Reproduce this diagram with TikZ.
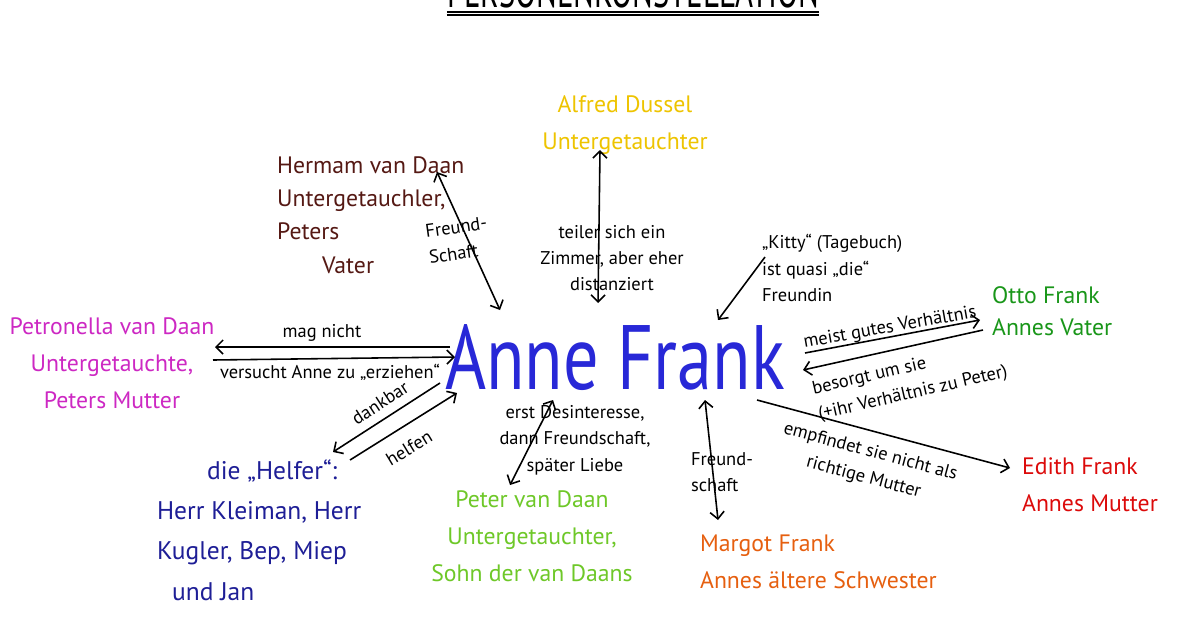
\documentclass[tikz,border=0pt]{standalone}
\usepackage{fontspec}
\setmainfont{PT Sans}
\usetikzlibrary{positioning,arrows.meta}
\definecolor{annecol}{RGB}{40,40,215}
\definecolor{alfredcol}{RGB}{238,196,0}
\definecolor{hermcol}{RGB}{85,25,20}
\definecolor{petrcol}{RGB}{205,40,195}
\definecolor{helfcol}{RGB}{30,30,150}
\definecolor{petercol}{RGB}{110,200,40}
\definecolor{margcol}{RGB}{230,95,15}
\definecolor{edithcol}{RGB}{220,10,10}
\definecolor{ottocol}{RGB}{25,150,25}

\begin{document}
\begin{tikzpicture}[>={Straight Barb[length=4pt,width=8pt]}, every node/.style={font=\small}]
\tikzset{
  person/.style={font=\fontsize{13.5}{21}\selectfont, inner sep=1pt},
  helper/.style={font=\fontsize{14.5}{23}\selectfont, inner sep=1pt},
  relation/.style={font=\fontsize{10.5}{15}\selectfont, inner sep=1pt},
  both/.style={<->, line width=0.9pt},
  oneway/.style={->, line width=0.9pt}
}
\useasboundingbox (0,0) rectangle (24,12.6);
\fill[white] (0,0) rectangle (24,12.6);
\node[anchor=base, font=\fontsize{17.5}{17.5}\selectfont, yscale=1.6, inner sep=0] (title) at (12.66,12.44) {PERSONENKONSTELLATION};
\draw[line width=0.8pt] ([yshift=-0.08cm]title.base west) -- ([yshift=-0.08cm]title.base east);
\draw[line width=0.8pt] ([yshift=-0.14cm]title.base west) -- ([yshift=-0.14cm]title.base east);
\node[text=annecol, font=\fontsize{40}{40}\selectfont, yscale=1.3] (anne) at (12.3,5.44) {Anne Frank};
\node[person, text=alfredcol, align=center] (alfred) at (12.5,10.1) {Alfred Dussel\\Untergetauchter};
\node[person, text=hermcol, align=left, anchor=west, font=\fontsize{13.5}{19}\selectfont] (hermann) at (5.5,8.3) {Hermam van Daan\\Untergetauchler,\\Peters\\\hspace*{0.9cm}Vater};
\node[person, text=petrcol, align=center] (petronella) at (2.24,5.34) {Petronella van Daan\\Untergetauchte,\\Peters Mutter};
\node[helper, text=helfcol, align=left, anchor=west] (helfer) at (3.1,2.0) {\hspace*{1cm}die „Helfer“:\\Herr Kleiman, Herr\\Kugler, Bep, Miep\\\hspace*{0.3cm}und Jan};
\node[person, text=petercol, align=center] (peter) at (10.64,1.88) {Peter van Daan\\Untergetauchter,\\Sohn der van Daans};
\node[person, text=margcol, align=left, anchor=west] (margot) at (13.96,1.36) {Margot Frank\\Annes ältere Schwester};
\node[person, text=edithcol, align=left, anchor=west] (edith) at (20.4,2.9) {Edith Frank\\Annes Mutter};
\node[person, text=ottocol, align=left, anchor=west, font=\fontsize{13.5}{18}\selectfont] (otto) at (19.8,6.38) {Otto Frank\\Annes Vater};
\node[relation, align=left, anchor=west] (kitty) at (15.2,7.24) {„Kitty“ (Tagebuch)\\ist quasi „die“\\Freundin};
\coordinate (hermA) at (8.74,9.16);
\coordinate (hermB) at (10.0,6.4);
\coordinate (alfA) at (12.0,9.6);
\coordinate (alfB) at (11.96,6.54);
\coordinate (kitA) at (15.3,7.46);
\coordinate (kitB) at (14.36,6.2);
\coordinate (ottoA) at (16.1,5.54);
\coordinate (ottoB) at (19.6,6.2);
\coordinate (ottoC) at (19.66,6.0);
\coordinate (ottoD) at (16.06,5.2);
\coordinate (petrA) at (9.0,5.66);
\coordinate (petrB) at (4.3,5.66);
\coordinate (petrC) at (4.26,5.4);
\coordinate (petrD) at (9.1,5.46);
\coordinate (helfA) at (8.8,4.94);
\coordinate (helfB) at (6.66,3.56);
\coordinate (helfC) at (7.0,3.4);
\coordinate (helfD) at (9.14,4.74);
\coordinate (petA) at (11.06,4.6);
\coordinate (petB) at (10.2,2.9);
\coordinate (margA) at (14.1,4.6);
\coordinate (margB) at (14.36,2.2);
\coordinate (edA) at (15.14,4.6);
\coordinate (edB) at (20.2,3.24);
\draw[both] (hermA) -- (hermB);
\draw[both] (alfA) -- (alfB);
\draw[oneway] (kitA) -- (kitB);
\draw[oneway] (ottoA) -- (ottoB);
\draw[oneway] (ottoC) -- (ottoD);
\draw[oneway] (petrA) -- (petrB);
\draw[oneway] (petrC) -- (petrD);
\draw[oneway] (helfA) -- (helfB);
\draw[oneway] (helfC) -- (helfD);
\draw[both] (petA) -- (petB);
\draw[both] (margA) -- (margB);
\draw[oneway] (edA) -- (edB);
\node[relation, align=left, rotate=8] (lhermann) at (9.16,7.8) {Freund-\\Schaft};
\node[relation, align=center] (lalfred) at (12.24,7.44) {teiler sich ein\\Zimmer, aber eher\\distanziert};
\node[relation] (lmag) at (6.44,5.94) {mag nicht};
\node[relation] (lerz) at (6.6,5.16) {versucht Anne zu „erziehen“};
\node[relation, rotate=33] (ldank) at (7.6,4.54) {dankbar};
\node[relation, rotate=31] (lhelf) at (8.18,3.64) {helfen};
\node[relation, align=center] (lpeter) at (11.5,3.8) {erst Desinteresse,\\dann Freundschaft,\\später Liebe};
\node[relation, rotate=10] (lmeist) at (17.8,6.04) {meist gutes Verhältnis};
\node[relation, align=left, rotate=13] (lsorge) at (18.2,4.98) {besorgt um sie\\(+ihr Verhältnis zu Peter)};
\node[relation, align=center, rotate=-15] (lmutter) at (17.34,3.3) {empfindet sie nicht als\\richtige Mutter};
\node[relation, align=left] (lmargot) at (14.44,3.16) {Freund-\\schaft};
\end{tikzpicture}
\end{document}
